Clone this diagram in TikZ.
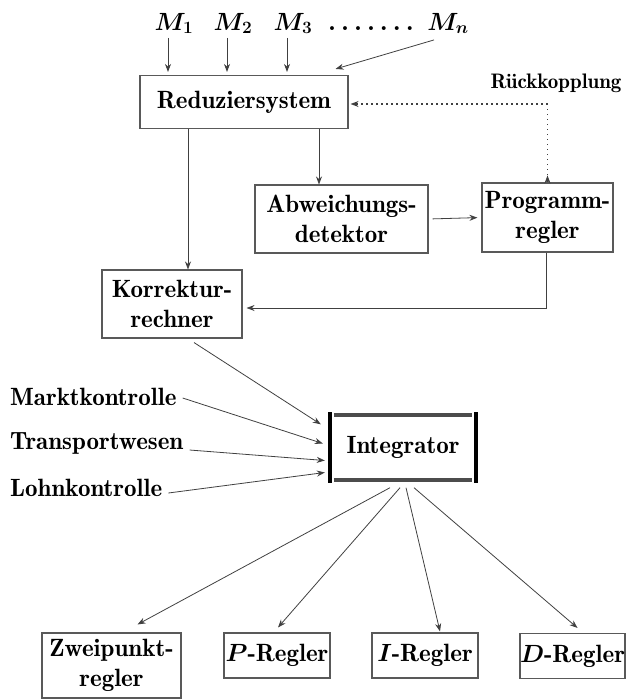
\documentclass[tikz,border=0pt]{standalone}
\usetikzlibrary{arrows.meta}

\begin{document}
\begin{tikzpicture}
  [x=1pt,y=-1pt,
   every node/.style={font=\fontsize{25}{30}\fontseries{b}\selectfont\boldmath},
   box/.style={draw=black!65,line width=1.1pt,align=center,inner sep=0pt},
   lbl/.style={inner sep=2pt},
   arr/.style={draw=black!75,line width=0.8pt,-{Stealth[length=8pt,width=6pt]}},
   fb/.style={arr,line width=1.1pt,dash pattern=on 1.2pt off 3.8pt}]
  \useasboundingbox (0,0) rectangle (627,699);

  \node[lbl,anchor=base] (m1) at (174,30) {$M_1$};
  \node[lbl,anchor=base] (m2) at (233,30) {$M_2$};
  \node[lbl,anchor=base] (m3) at (293,30) {$M_3$};
  \node[lbl,anchor=base] (dots) at (371,30) {.\kern6pt.\kern6pt.\kern6pt.\kern6pt.\kern6pt.\kern6pt.};
  \node[lbl,anchor=base] (mn) at (448,30) {$M_n$};
  \node[lbl,font=\fontsize{21}{25}\fontseries{b}\selectfont] (rk) at (556,83) {Rückkopplung};
  \coordinate (fbc) at (547.5,104);

  \node[box,minimum width=208pt,minimum height=53pt] (red) at (244,102) {Reduziersystem};
  \node[box,minimum width=173pt,minimum height=68pt] (abw) at (341.5,219) {Abweichungs-\\detektor};
  \node[box,minimum width=131pt,minimum height=69pt] (prog) at (547.5,217.5) {Programm-\\regler};
  \node[box,minimum width=140pt,minimum height=68pt] (korr) at (172,304) {Korrektur-\\rechner};
  \node[minimum width=146pt,minimum height=70pt,inner sep=0pt] (integ) at (403,447.5) {Integrator};

  \node[lbl,anchor=west] (markt) at (8,397) {Marktkontrolle};
  \node[lbl,anchor=west] (transp) at (8,443) {Transportwesen};
  \node[lbl,anchor=west] (lohn) at (8,488) {Lohnkontrolle};

  \node[box,minimum width=139pt,minimum height=65pt] (zwei) at (111.5,665.5) {Zweipunkt-\\regler};
  \node[box,minimum width=106pt,minimum height=45pt] (preg) at (277,655.5) {$P$-Regler};
  \node[box,minimum width=106pt,minimum height=45pt] (ireg) at (425,655.5) {$I$-Regler};
  \node[box,minimum width=105pt,minimum height=45pt] (dreg) at (572.5,656) {$D$-Regler};

  \draw[line width=4.5pt] (integ.north west) -- (integ.south west);
  \draw[line width=4.5pt] (integ.north east) -- (integ.south east);
  \draw[line width=4pt,black!70] ([xshift=4pt,yshift=-3pt]integ.north west) -- ([xshift=-4pt,yshift=-3pt]integ.north east);
  \draw[line width=4pt,black!70] ([xshift=4pt,yshift=3pt]integ.south west) -- ([xshift=-4pt,yshift=3pt]integ.south east);

  \foreach \m in {m1,m2,m3}
    \draw[arr,shorten <=2pt,shorten >=3pt] ([xshift=-6pt]\m.south) -- ([xshift=-6pt]\m.south |- red.north);
  \draw[arr] ([xshift=-14pt,yshift=-4pt]mn.south) -- ([xshift=-13pt,yshift=6pt]red.north east);

  \draw[fb,shorten >=2pt] (fbc) -- (fbc -| red.east);
  \draw[fb,-] (fbc) -- (prog.north);
  \draw[arr] (prog.north) -- ++(0,-7);

  \draw[arr] (red.south -| korr.north) ++(16,0) -- ([xshift=16pt]korr.north);
  \draw[arr] ([xshift=75pt]red.south) -- ([xshift=-22.5pt]abw.north);
  \draw[arr,shorten <=4pt,shorten >=4pt] (abw.east) -- (prog.west);
  \draw[arr,shorten >=4pt] ([xshift=-1pt]prog.south) |- ([yshift=-4pt]korr.east);

  \draw[arr] ([xshift=22pt,yshift=-4pt]korr.south) -- ([xshift=-9pt,yshift=-12pt]integ.north west);
  \draw[arr] ([xshift=4pt,yshift=-1pt]markt.east) -- ([xshift=-7pt,yshift=4pt]integ.west);
  \draw[arr] ([xshift=4pt,yshift=-7pt]transp.east) -- ([xshift=-5pt,yshift=-13pt]integ.west);
  \draw[arr] ([xshift=4pt,yshift=-5pt]lohn.east) -- ([xshift=-5pt,yshift=-25pt]integ.west);

  \foreach \dx/\to/\tx/\ty in {-13/zwei/26/8, -3/preg/1/5, 3/ireg/15/1, 11/dreg/5/5}
    \draw[arr] ([xshift=\dx pt,yshift=-5pt]integ.south) -- ([xshift=\tx pt,yshift=\ty pt]\to.north);

\end{tikzpicture}
\end{document}
